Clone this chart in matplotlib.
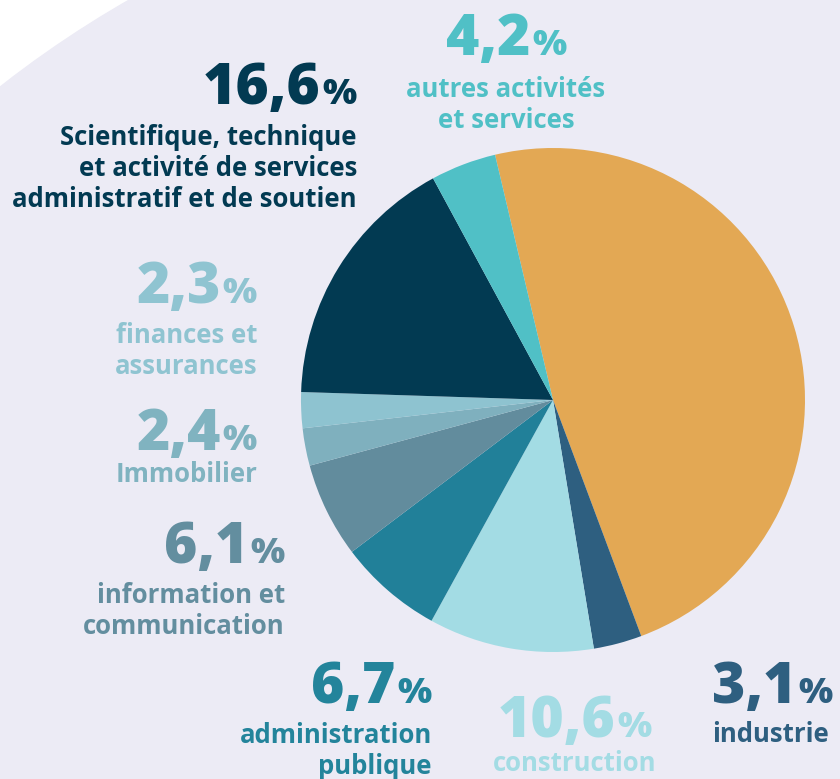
import matplotlib
matplotlib.use("Agg")
import matplotlib.pyplot as plt
from matplotlib.patches import Circle

# Données
secteurs = ["commerce", "industrie", "construction", "administration", "information",
            "immobilier", "finances", "scientifique", "autres"]
parts = [48, 3.1, 10.6, 6.7, 6.1, 2.4, 2.3, 16.6, 4.2]
etiquettes = ["48", "3,1", "10,6", "6,7", "6,1", "2,4", "2,3", "16,6", "4,2"]
textes = [
    "commerce\nde gros et détail,\ndes transports\net services divers",
    "industrie",
    "construction",
    "administration\npublique",
    "information et\ncommunication",
    "Immobilier",
    "finances et\nassurances",
    "Scientifique, technique\net activité de services\nadministratif et de soutien",
    "autres activités\net services",
]
couleurs = ["#e3a854", "#2e5f80", "#a3dce4", "#218099", "#628c9d",
            "#7fb0be", "#8ec3d0", "#023a52", "#50c0c6"]
couleurs_txt = ["white", "#2e5f80", "#a3dce4", "#23849b", "#638e9f",
                "#80b3c0", "#8fc4d1", "#023a52", "#50c0c6"]

W, H = 840, 779
fig = plt.figure(figsize=(W / 100, H / 100), dpi=100, facecolor="white")

# fond : grand disque lavande
bg = fig.add_axes([0, 0, 1, 1])
bg.set_xlim(0, W)
bg.set_ylim(H, 0)
bg.axis("off")
bg.add_patch(Circle((663, 932), 1074, color="#ecebf5", zorder=0))

# camembert
cx, cy, r = 553, 400, 252
ax = fig.add_axes([(cx - r) / W, 1 - (cy + r) / H, 2 * r / W, 2 * r / H])
ax.pie(parts, colors=couleurs, startangle=103.3, counterclock=False,
       wedgeprops=dict(linewidth=0))
ax.set_xlim(-1, 1)
ax.set_ylim(-1, 1)
ax.set_facecolor("none")

rend = fig.canvas.get_renderer()
police = "Open Sans"


def largeur(t):
    return t.get_window_extent(renderer=rend).width


def etiquette(x, y, num, desc, coul, ha, tnum=41, tpct=26, tdesc=18.5, interligne=31, dy=41):
    n = bg.text(0, y, num, fontsize=tnum, color=coul, family=police, weight="heavy", va="baseline")
    p = bg.text(0, y, "%", fontsize=tpct, color=coul, family=police, weight="heavy", va="baseline")
    wn, wp = largeur(n), largeur(p)
    gap = 2
    if ha == "right":
        x0 = x - wp - gap - wn
    elif ha == "center":
        x0 = x - (wn + wp + gap) / 2
    else:
        x0 = x
    n.set_x(x0)
    p.set_x(x0 + wn + gap)
    for i, ligne in enumerate(desc.split("\n")):
        bg.text(x, y + dy + i * interligne, ligne, fontsize=tdesc, color=coul,
                family=police, weight="bold", ha=ha, va="baseline")


# position (x, ligne de base du nombre, alignement, écart nombre/texte)
pos = {
    "commerce": (687, 303, "center", 39),
    "industrie": (712, 703, "left", 39),
    "construction": (575, 737, "center", 34),
    "administration": (432, 703, "right", 40),
    "information": (285, 563, "right", 40),
    "immobilier": (257, 450, "right", 32),
    "finances": (257, 303, "right", 40),
    "scientifique": (357, 104, "right", 41),
    "autres": (506, 55, "center", 42),
}

for i, s in enumerate(secteurs):
    x, y, ha, dy = pos[s]
    if s == "commerce":
        etiquette(x, y, etiquettes[i], textes[i], couleurs_txt[i], ha,
                  tnum=47, tpct=15, tdesc=17, interligne=28.5, dy=dy)
    else:
        etiquette(x, y, etiquettes[i], textes[i], couleurs_txt[i], ha, dy=dy)

fig.savefig("out.png", dpi=100, facecolor="white")
